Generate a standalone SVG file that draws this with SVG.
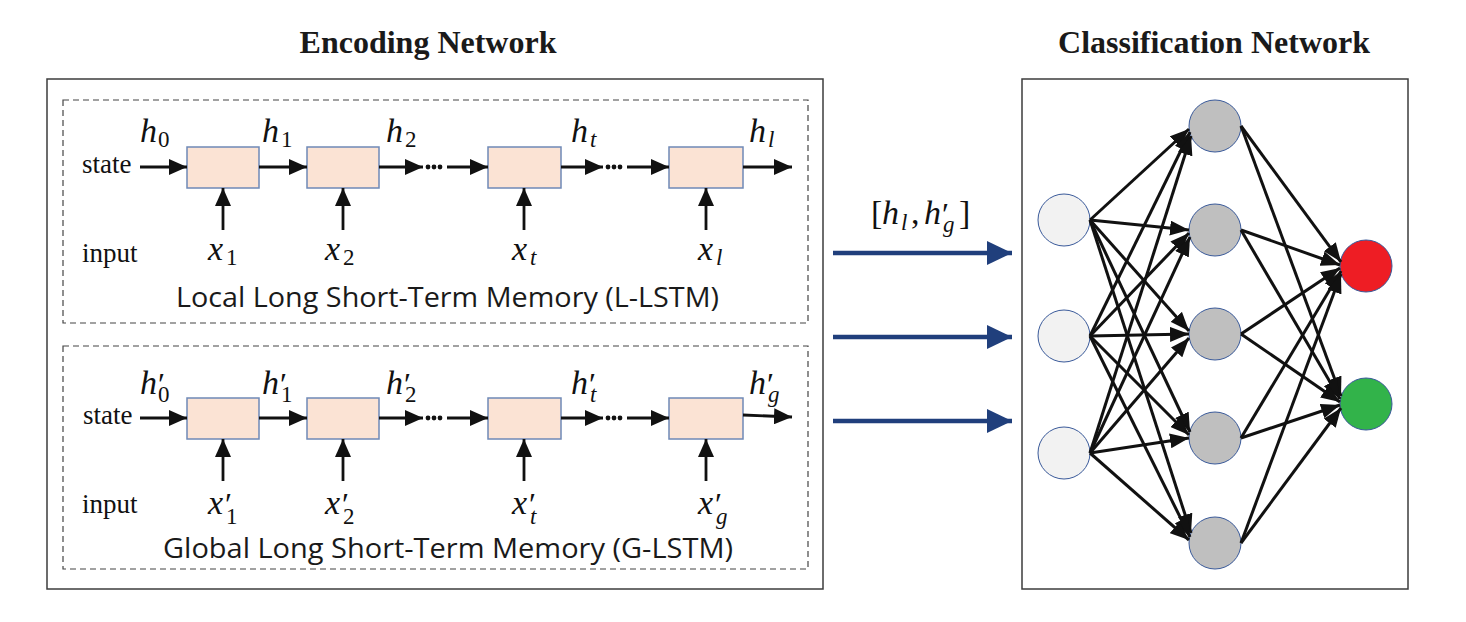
<svg xmlns="http://www.w3.org/2000/svg" width="1466" height="622" viewBox="0 0 1466 622">
<style>
.title{font-family:"Liberation Serif","Times New Roman",serif;font-weight:bold;font-size:32px;fill:#1a1a1a}
.frame{fill:none;stroke:#3c3c3c;stroke-width:1.5}
.dash{fill:none;stroke:#444;stroke-width:1.2;stroke-dasharray:6 4}
.cell{fill:#fbe3d4;stroke:#6f89b7;stroke-width:1.5}
.rm{font-family:"Liberation Serif","Times New Roman",serif;font-size:27px;fill:#111}
.mi{font-family:"Liberation Serif","Times New Roman",serif;font-style:italic;font-size:34px;fill:#111}
.sub{font-style:normal;font-size:23px}
.subi{font-style:italic;font-size:23px}
.pr{font-style:normal;font-size:32px}
.cap{font-family:"Open Sans","Noto Sans",sans-serif;font-size:27px;fill:#1a1a1a}
.ar{fill:none;stroke:#111;stroke-width:2.8;marker-end:url(#ma)}
.nn{fill:none;stroke:#111;stroke-width:3;marker-end:url(#mb)}
.mid{fill:none;stroke:#203f7c;stroke-width:4.5;marker-end:url(#mc)}
.inp{fill:#f2f2f2;stroke:#3a5a9a;stroke-width:1}
.hid{fill:#bfbfbf;stroke:#3a5a9a;stroke-width:1}
.dot{fill:#111}
</style>
<defs>
<marker id="ma" markerUnits="userSpaceOnUse" markerWidth="18" markerHeight="16" refX="18" refY="8" orient="auto"><path d="M0,0 L18,8 L0,16 Z" fill="#111"/></marker>
<marker id="mb" markerUnits="userSpaceOnUse" markerWidth="19" markerHeight="15" refX="19" refY="7.5" orient="auto"><path d="M0,0 L19,7.5 L0,15 Z" fill="#111"/></marker>
<marker id="mc" markerUnits="userSpaceOnUse" markerWidth="25" markerHeight="24" refX="25" refY="12" orient="auto"><path d="M0,0 L25,12 L0,24 Z" fill="#203f7c"/></marker>
</defs>
<rect width="1466" height="622" fill="#fff"/>

<g id="titles">
<text class="title" x="428" y="53" text-anchor="middle">Encoding Network</text>
<text class="title" x="1214" y="53" text-anchor="middle">Classification Network</text>
</g>

<g id="encoding-frame"><rect class="frame" x="47" y="79" width="776" height="510"/></g>
<g id="classification-frame"><rect class="frame" x="1022" y="79" width="386" height="510"/></g>

<g id="l-lstm">
<rect class="dash" x="63" y="100" width="745" height="223"/>
<rect class="cell" x="187" y="147" width="72" height="41"/>
<rect class="cell" x="307" y="147" width="72" height="41"/>
<rect class="cell" x="488" y="147" width="73" height="41"/>
<rect class="cell" x="669" y="147" width="74" height="41"/>
<text class="rm" x="82" y="173">state</text>
<text class="rm" x="82" y="262">input</text>
<text class="mi" x="140" y="142">h<tspan class="sub" x="158" y="147">0</tspan></text>
<text class="mi" x="262" y="142">h<tspan class="sub" x="281" y="147">1</tspan></text>
<text class="mi" x="386" y="142">h<tspan class="sub" x="405" y="147">2</tspan></text>
<text class="mi" x="571" y="142">h<tspan class="subi" x="590" y="147">t</tspan></text>
<text class="mi" x="749" y="142">h<tspan class="subi" x="768" y="147">l</tspan></text>
<text class="mi" x="208" y="260">x<tspan class="sub" x="226" y="265">1</tspan></text>
<text class="mi" x="325" y="260">x<tspan class="sub" x="343" y="265">2</tspan></text>
<text class="mi" x="512" y="260">x<tspan class="subi" x="530" y="265">t</tspan></text>
<text class="mi" x="698" y="260">x<tspan class="subi" x="716" y="265">l</tspan></text>
<text class="cap" x="176" y="307" textLength="543" lengthAdjust="spacingAndGlyphs">Local Long Short-Term Memory (L-LSTM)</text>
</g>

<g id="g-lstm">
<rect class="dash" x="63" y="346" width="745" height="223"/>
<rect class="cell" x="187" y="398" width="72" height="41"/>
<rect class="cell" x="307" y="398" width="72" height="41"/>
<rect class="cell" x="488" y="398" width="73" height="41"/>
<rect class="cell" x="669" y="398" width="74" height="41"/>
<text class="rm" x="83" y="424">state</text>
<text class="rm" x="82" y="513">input</text>
<text class="mi" x="140" y="394">h<tspan class="pr" x="158" y="395">′</tspan><tspan class="sub" x="158" y="402">0</tspan></text>
<text class="mi" x="262" y="394">h<tspan class="pr" x="280" y="395">′</tspan><tspan class="sub" x="281" y="402">1</tspan></text>
<text class="mi" x="386" y="394">h<tspan class="pr" x="404" y="395">′</tspan><tspan class="sub" x="405" y="402">2</tspan></text>
<text class="mi" x="571" y="394">h<tspan class="pr" x="589" y="395">′</tspan><tspan class="subi" x="590" y="402">t</tspan></text>
<text class="mi" x="749" y="394">h<tspan class="pr" x="767" y="395">′</tspan><tspan class="subi" x="768" y="402">g</tspan></text>
<text class="mi" x="208" y="514">x<tspan class="pr" x="225" y="515">′</tspan><tspan class="sub" x="226" y="524">1</tspan></text>
<text class="mi" x="325" y="514">x<tspan class="pr" x="342" y="515">′</tspan><tspan class="sub" x="343" y="524">2</tspan></text>
<text class="mi" x="512" y="514">x<tspan class="pr" x="529" y="515">′</tspan><tspan class="subi" x="530" y="524">t</tspan></text>
<text class="mi" x="698" y="514">x<tspan class="pr" x="715" y="515">′</tspan><tspan class="subi" x="716" y="524">g</tspan></text>
<text class="cap" x="163" y="558" textLength="570" lengthAdjust="spacingAndGlyphs">Global Long Short-Term Memory (G-LSTM)</text>
</g>

<g id="concat-label">
<text class="mi" x="871" y="224" font-size="35"><tspan font-style="normal">[</tspan><tspan x="882">h</tspan><tspan class="subi" x="901" y="230">l</tspan><tspan font-style="normal" x="911" y="224">,</tspan><tspan x="924" y="224">h</tspan><tspan class="pr" x="942" y="225">′</tspan><tspan class="subi" x="943" y="232">g</tspan><tspan font-style="normal" x="959" y="224">]</tspan></text>
</g>

<g id="input-layer">
<circle class="inp" cx="1064" cy="220" r="26"/>
<circle class="inp" cx="1064" cy="336" r="26"/>
<circle class="inp" cx="1064" cy="453" r="26"/>
</g>
<g id="hidden-layer">
<circle class="hid" cx="1215" cy="126" r="26"/>
<circle class="hid" cx="1215" cy="230" r="26"/>
<circle class="hid" cx="1215" cy="334" r="26"/>
<circle class="hid" cx="1215" cy="438" r="26"/>
<circle class="hid" cx="1215" cy="543" r="26"/>
</g>
<g id="output-layer">
<circle cx="1366" cy="266" r="26" fill="#ee1d24" stroke="#3a5a9a" stroke-width="1"/>
<circle cx="1366" cy="404" r="26" fill="#32b34a" stroke="#3a5a9a" stroke-width="1"/>
</g>

<g id="connectors">
<line class="ar" x1="140" y1="167" x2="187" y2="167"/>
<line class="ar" x1="259" y1="167" x2="307" y2="167"/>
<line class="ar" x1="379" y1="167" x2="423" y2="167"/>
<circle class="dot" cx="428" cy="167" r="2.4"/><circle class="dot" cx="434" cy="167" r="2.4"/><circle class="dot" cx="440" cy="167" r="2.4"/>
<line class="ar" x1="447" y1="167" x2="488" y2="167"/>
<line class="ar" x1="561" y1="167" x2="603" y2="167"/>
<circle class="dot" cx="608" cy="167" r="2.4"/><circle class="dot" cx="614" cy="167" r="2.4"/><circle class="dot" cx="620" cy="167" r="2.4"/>
<line class="ar" x1="627" y1="167" x2="669" y2="167"/>
<line class="ar" x1="743" y1="167" x2="792" y2="167"/>
<line class="ar" x1="223" y1="230" x2="223" y2="188"/>
<line class="ar" x1="343" y1="230" x2="343" y2="188"/>
<line class="ar" x1="524" y1="230" x2="524" y2="188"/>
<line class="ar" x1="706" y1="230" x2="706" y2="188"/>

<line class="ar" x1="140" y1="418" x2="187" y2="418"/>
<line class="ar" x1="259" y1="418" x2="307" y2="418"/>
<line class="ar" x1="379" y1="418" x2="423" y2="418"/>
<circle class="dot" cx="428" cy="418" r="2.4"/><circle class="dot" cx="434" cy="418" r="2.4"/><circle class="dot" cx="440" cy="418" r="2.4"/>
<line class="ar" x1="447" y1="418" x2="488" y2="418"/>
<line class="ar" x1="561" y1="418" x2="603" y2="418"/>
<circle class="dot" cx="608" cy="418" r="2.4"/><circle class="dot" cx="614" cy="418" r="2.4"/><circle class="dot" cx="620" cy="418" r="2.4"/>
<line class="ar" x1="627" y1="418" x2="669" y2="418"/>
<line class="ar" x1="743" y1="415" x2="792" y2="417"/>
<line class="ar" x1="223" y1="481" x2="223" y2="439"/>
<line class="ar" x1="343" y1="481" x2="343" y2="439"/>
<line class="ar" x1="524" y1="481" x2="524" y2="439"/>
<line class="ar" x1="706" y1="481" x2="706" y2="439"/>

<line class="mid" x1="833" y1="253" x2="1012" y2="253"/>
<line class="mid" x1="833" y1="337" x2="1012" y2="337"/>
<line class="mid" x1="833" y1="421" x2="1012" y2="421"/>

<line class="nn" x1="1090" y1="220" x2="1189" y2="129"/>
<line class="nn" x1="1090" y1="336" x2="1190" y2="132"/>
<line class="nn" x1="1090" y1="453" x2="1191" y2="136"/>
<line class="nn" x1="1090" y1="220" x2="1189" y2="230"/>
<line class="nn" x1="1090" y1="336" x2="1189" y2="233"/>
<line class="nn" x1="1090" y1="453" x2="1190" y2="237"/>
<line class="nn" x1="1090" y1="220" x2="1189" y2="331"/>
<line class="nn" x1="1090" y1="336" x2="1189" y2="334"/>
<line class="nn" x1="1090" y1="453" x2="1189" y2="338"/>
<line class="nn" x1="1090" y1="220" x2="1190" y2="432"/>
<line class="nn" x1="1090" y1="336" x2="1189" y2="435"/>
<line class="nn" x1="1090" y1="453" x2="1189" y2="438"/>
<line class="nn" x1="1090" y1="220" x2="1191" y2="533"/>
<line class="nn" x1="1090" y1="336" x2="1190" y2="537"/>
<line class="nn" x1="1090" y1="453" x2="1189" y2="540"/>

<line class="nn" x1="1241" y1="126" x2="1341" y2="262"/>
<line class="nn" x1="1241" y1="230" x2="1340" y2="265"/>
<line class="nn" x1="1241" y1="334" x2="1340" y2="268"/>
<line class="nn" x1="1241" y1="438" x2="1341" y2="271"/>
<line class="nn" x1="1241" y1="543" x2="1341" y2="274"/>
<line class="nn" x1="1241" y1="126" x2="1341" y2="396"/>
<line class="nn" x1="1241" y1="230" x2="1340" y2="399"/>
<line class="nn" x1="1241" y1="334" x2="1340" y2="402"/>
<line class="nn" x1="1241" y1="438" x2="1340" y2="405"/>
<line class="nn" x1="1241" y1="543" x2="1341" y2="408"/>
</g>
</svg>
